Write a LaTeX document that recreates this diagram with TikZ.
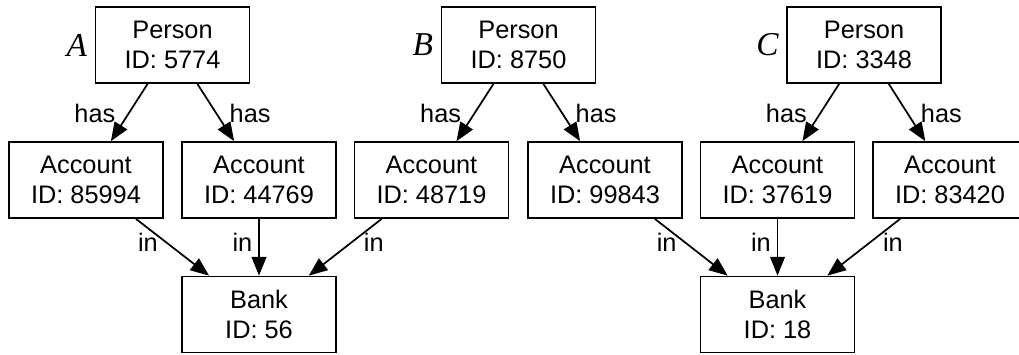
\documentclass[tikz,border=0pt]{standalone}
\usepackage{fontspec}
\setmainfont{Liberation Sans}
\newfontfamily\tagfont{Liberation Serif}
\usetikzlibrary{arrows.meta}
\begin{document}
\begin{tikzpicture}[x=0.75pt,y=-0.75pt,
  box/.style={draw, line width=1.3pt, minimum width=115.5pt, minimum height=57pt,
    align=center, inner sep=0pt, font=\fontsize{19}{23}\selectfont},
  conn/.style={line width=1.3pt, -{Triangle[length=14pt,width=11pt]}},
  lbl/.style={font=\fontsize{19}{23}\selectfont, inner sep=0pt},
  tag/.style={font=\fontsize{25}{28}\selectfont\tagfont\itshape, inner sep=0pt, anchor=east}]
\clip (0,0) rectangle (1019,354);
% persons
\node[box] (pa) at (172.5,45) {Person\\ID: 5774};
\node[box] (pb) at (518.5,45) {Person\\ID: 8750};
\node[box] (pc) at (864,45) {Person\\ID: 3348};
\node[tag] (ta) at ([xshift=-5.5pt]pa.west) {A};
\node[tag] (tb) at ([xshift=-5.5pt]pb.west) {B};
\node[tag] (tc) at ([xshift=-5.5pt]pc.west) {C};
% accounts
\node[box] (a1) at (86,180) {Account\\ID: 85994};
\node[box] (a2) at (259,180) {Account\\ID: 44769};
\node[box] (a3) at (431.5,180) {Account\\ID: 48719};
\node[box] (a4) at (605,180) {Account\\ID: 99843};
\node[box] (a5) at (777.5,180) {Account\\ID: 37619};
\node[box] (a6) at (950,180) {Account\\ID: 83420};
% banks
\node[box] (b1) at (259,314.5) {Bank\\ID: 56};
\node[box] (b2) at (777.5,314.5) {Bank\\ID: 18};
% has edges
\draw[conn] (pa) -- (a1) node[lbl, pos=0.51, xshift=-25.5pt] {has};
\draw[conn] (pa) -- (a2) node[lbl, pos=0.51, xshift=25.5pt] {has};
\draw[conn] (pb) -- (a3) node[lbl, pos=0.51, xshift=-25.5pt] {has};
\draw[conn] (pb) -- (a4) node[lbl, pos=0.51, xshift=25.5pt] {has};
\draw[conn] (pc) -- (a5) node[lbl, pos=0.51, xshift=-25.5pt] {has};
\draw[conn] (pc) -- (a6) node[lbl, pos=0.51, xshift=25.5pt] {has};
% in edges
\draw[conn] (a1) -- (b1) node[lbl, pos=0.41, xshift=-13.5pt] {in};
\draw[conn] (a2) -- (b1) node[lbl, pos=0.41, xshift=-12.4pt] {in};
\draw[conn] (a3) -- (b1) node[lbl, pos=0.41, xshift=16.5pt] {in};
\draw[conn] (a4) -- (b2) node[lbl, pos=0.41, xshift=-13.5pt] {in};
\draw[conn] (a5) -- (b2) node[lbl, pos=0.41, xshift=-12.4pt] {in};
\draw[conn] (a6) -- (b2) node[lbl, pos=0.41, xshift=17pt] {in};
\end{tikzpicture}
\end{document}
